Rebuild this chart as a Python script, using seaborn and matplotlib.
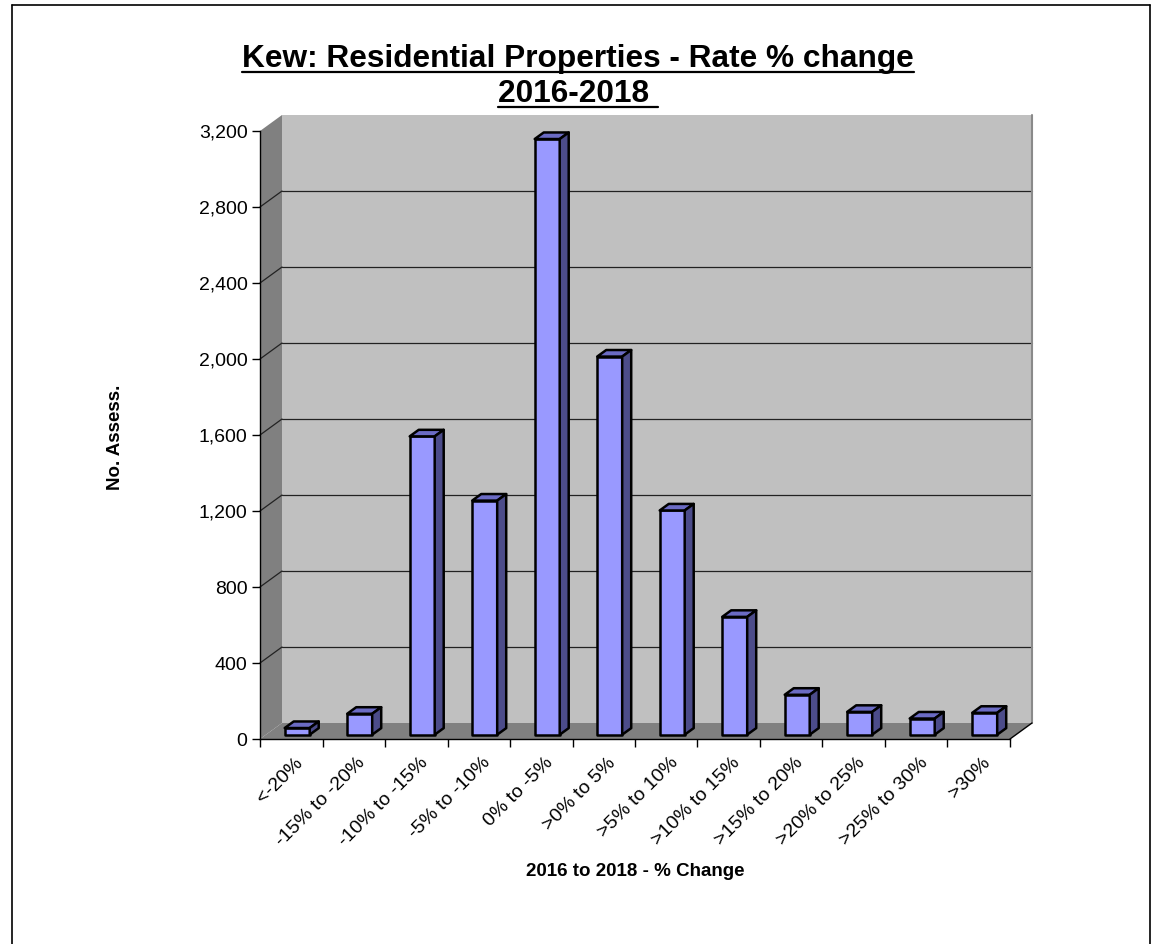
import matplotlib
matplotlib.use("Agg")
import matplotlib.pyplot as plt
import matplotlib.transforms as mtransforms
from matplotlib.patches import Polygon
from matplotlib.lines import Line2D
from matplotlib.ticker import FuncFormatter
import seaborn as sns
import pandas as pd
import numpy as np

# Rate change bands and number of assessments in each
bands = ["<-20%", "-15% to -20%", "-10% to -15%", "-5% to -10%", "0% to -5%",
         ">0% to 5%", ">5% to 10%", ">10% to 15%", ">15% to 20%",
         ">20% to 25%", ">25% to 30%", ">30%"]
assessments = [35, 110, 1570, 1232, 3135, 1990, 1180, 620, 210, 120, 85, 115]
y_ticks = [0, 400, 800, 1200, 1600, 2000, 2400, 2800, 3200]

title_lines = ["Kew: Residential Properties - Rate % change", "2016-2018 "]
x_title = "2016 to 2018 - % Change"
y_title = "No. Assess."

sns.set_style("white")
plt.rcParams["font.family"] = ["Liberation Sans", "DejaVu Sans"]
for key in ["text.color", "axes.labelcolor", "xtick.color", "ytick.color"]:
    plt.rcParams[key] = "black"

W, H = 1152, 944
fig = plt.figure(figsize=(W / 100, H / 100), dpi=100)
ax = fig.add_axes([260 / W, (H - 739) / H, 750 / W, 608 / H])
ax.set_facecolor("none")

df = pd.DataFrame({"band": bands, "count": assessments})
sns.barplot(data=df, x="band", y="count", color="#9999FF", saturation=1,
            width=0.4, edgecolor="black", linewidth=1.8, ax=ax, zorder=3)

n = len(bands)
xmin, xmax = -0.5, n - 0.5
ymax = y_ticks[-1]
ax.set_xlim(xmin, xmax)
ax.set_ylim(0, ymax)

# depth of the 3-D box, 22 px right / 16 px up, expressed in data units
p0 = ax.transData.transform([(0, 0)])[0]
ddx, ddy = ax.transData.inverted().transform([p0 + np.array([22, 16])])[0]

wall_grey = "#C0C0C0"
side_grey = "#808080"
# back wall
ax.add_patch(Polygon([(xmin + ddx, ddy), (xmax + ddx, ddy),
                      (xmax + ddx, ymax + ddy), (xmin + ddx, ymax + ddy)],
                     closed=True, fc=wall_grey, ec="none", zorder=0, clip_on=False))
# left wall
ax.add_patch(Polygon([(xmin, 0), (xmin, ymax), (xmin + ddx, ymax + ddy), (xmin + ddx, ddy)],
                     closed=True, fc=side_grey, ec="none", zorder=0, clip_on=False))
# floor
ax.add_patch(Polygon([(xmin, 0), (xmax, 0), (xmax + ddx, ddy), (xmin + ddx, ddy)],
                     closed=True, fc=side_grey, ec="none", zorder=0, clip_on=False))
# right edge of the back wall
ax.add_line(Line2D([xmax + ddx, xmax + ddx], [ddy, ymax + ddy], color="#8a8a8a",
                   lw=1.5, zorder=0.6, clip_on=False))
# right-hand floor edge
ax.add_line(Line2D([xmax, xmax + ddx], [0, ddy], color="black", lw=1.0,
                   zorder=0.6, clip_on=False))

# gridlines across the back wall and the left wall
for v in y_ticks[1:-1]:
    ax.add_line(Line2D([xmin + ddx, xmax + ddx], [v + ddy, v + ddy], color="#222222",
                       lw=0.9, zorder=0.5, clip_on=False))
    ax.add_line(Line2D([xmin, xmin + ddx], [v, v + ddy], color="#222222",
                       lw=0.9, zorder=0.5, clip_on=False))

# give every column a top and a side face, set slightly back into the box
f0, f1 = 0.27, 0.68
top_col, side_col = "#6B6BC4", "#4C4C8A"
for patch in list(ax.containers[0]):
    x0 = patch.get_x() + f0 * ddx
    y0 = f0 * ddy
    w = patch.get_width()
    h = patch.get_height()
    patch.set_x(x0)
    patch.set_y(y0)
    sx, sy = (f1 - f0) * ddx, (f1 - f0) * ddy
    top = Polygon([(x0, y0 + h), (x0 + w, y0 + h), (x0 + w + sx, y0 + h + sy), (x0 + sx, y0 + h + sy)],
                  closed=True, fc=top_col, ec="black", lw=1.8, joinstyle="round",
                  zorder=3, clip_on=False)
    side = Polygon([(x0 + w, y0), (x0 + w + sx, y0 + sy), (x0 + w + sx, y0 + h + sy), (x0 + w, y0 + h)],
                   closed=True, fc=side_col, ec="black", lw=1.8, joinstyle="round",
                   zorder=3, clip_on=False)
    ax.add_patch(top)
    ax.add_patch(side)
    patch.set_joinstyle("round")
    patch.set_clip_on(False)

# axes, ticks and labels
for s in ["top", "right"]:
    ax.spines[s].set_visible(False)
for s in ["left", "bottom"]:
    ax.spines[s].set_color("black")
    ax.spines[s].set_linewidth(1.0)
    ax.spines[s].set_zorder(4)

ax.set_yticks(y_ticks)
ax.yaxis.set_major_formatter(FuncFormatter(lambda v, _: f"{int(v):,}"))
ax.tick_params(axis="y", direction="out", length=6, width=1, color="black",
               labelsize=14, pad=3, left=True)
ax.set_xticks(range(n))
ax.set_xticks(np.arange(xmin, xmax + 0.01, 1), minor=True)
ax.tick_params(axis="x", which="major", length=0, labelsize=14, pad=11)
ax.tick_params(axis="x", which="minor", direction="out", length=6, width=1,
               color="black", bottom=True)
ax.set_xticklabels(bands, rotation=45, ha="right", rotation_mode="anchor")
shift = mtransforms.ScaledTranslation(3 / 100, 0, fig.dpi_scale_trans)
for lab in ax.get_xticklabels():
    lab.set_transform(lab.get_transform() + shift)

ax.set_xlabel("")
ax.set_ylabel("")
fig.text(635 / W, 1 - 872 / H, x_title, ha="center", va="center",
         fontsize=13.5, fontweight="bold")
fig.text(115 / W, 1 - 437 / H, y_title, ha="center", va="center",
         rotation=90, fontsize=13.5, fontweight="bold")

# underlined two-line title
baselines = [67, 102]
title_artists = []
for line, b in zip(title_lines, baselines):
    t = fig.text(578 / W, 1 - b / H, line, ha="center", va="baseline",
                 fontsize=22.8, fontweight="bold")
    title_artists.append((t, b))
fig.canvas.draw()
renderer = fig.canvas.get_renderer()
for t, b in title_artists:
    bb = t.get_window_extent(renderer)
    yy = 1 - (b + 5) / H
    fig.add_artist(Line2D([bb.x0 / W, bb.x1 / W], [yy, yy], color="black", lw=1.6))

# chart border
for xs, ys in [([12 / W, 12 / W], [0, 1 - 5 / H]),
               ([12 / W, 1150 / W], [1 - 5 / H, 1 - 5 / H]),
               ([1150 / W, 1150 / W], [0, 1 - 5 / H])]:
    fig.add_artist(Line2D(xs, ys, color="black", lw=1.2))

fig.savefig("out.png", dpi=100, facecolor="white")
